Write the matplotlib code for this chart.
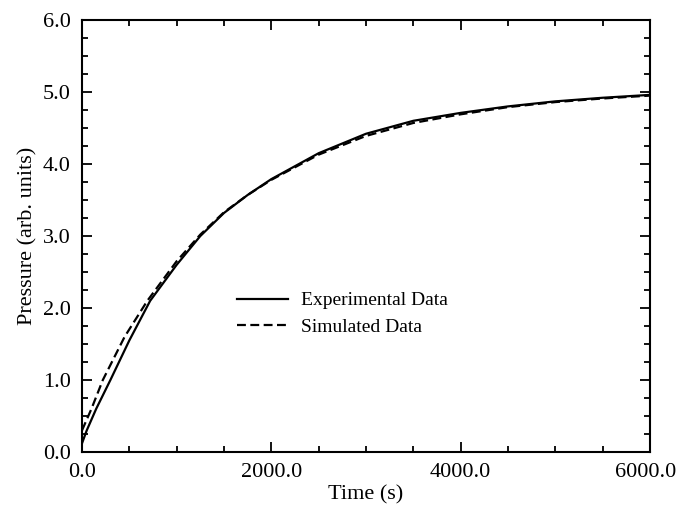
import matplotlib
matplotlib.use("Agg")
import matplotlib.pyplot as plt
from matplotlib.ticker import MultipleLocator, FuncFormatter

# values
exp_t = [0, 50, 150, 300, 500, 720, 1000, 1250, 1500, 1750, 2000, 2500, 3000, 3500, 4000, 4500, 5000, 5500, 6000]
exp_p = [0.12, 0.3, 0.6, 1.0, 1.55, 2.1, 2.6, 3.0, 3.32, 3.57, 3.79, 4.15, 4.42, 4.6, 4.71, 4.8, 4.87, 4.92, 4.96]

sim_t = [0, 100, 220, 450, 690, 1000, 1250, 1500, 1750, 2000, 2500, 3000, 3500, 4000, 4500, 5000, 5500, 6000]
sim_p = [0.3, 0.6, 1.0, 1.6, 2.1, 2.65, 3.02, 3.33, 3.57, 3.78, 4.13, 4.39, 4.57, 4.69, 4.79, 4.86, 4.91, 4.95]

x_max = 6000

plt.rcParams['font.family'] = ['Liberation Serif', 'DejaVu Serif']

fig = plt.figure(figsize=(6.78, 5.12), dpi=100)
ax = fig.add_axes([82/678, 1 - 452/512, 568/678, 432/512])

ax.plot(exp_t, exp_p, color="black", lw=1.6, ls="-", label="Experimental Data")
ax.plot(sim_t, sim_p, color="black", lw=1.6, ls=(0, (4, 2)), label="Simulated Data")

ax.set_xlim(0, x_max)
ax.set_ylim(0, 6)
ax.xaxis.set_major_locator(MultipleLocator(2000))
ax.xaxis.set_minor_locator(MultipleLocator(500))
ax.yaxis.set_major_locator(MultipleLocator(1))
ax.yaxis.set_minor_locator(MultipleLocator(0.25))
# the last x label is drawn by hand, nudged left so it fits in the figure
ax.xaxis.set_major_formatter(FuncFormatter(lambda v, p: "" if v >= x_max else "%.1f" % v))
ax.yaxis.set_major_formatter(FuncFormatter(lambda v, p: "%.1f" % v))
ax.tick_params(which="both", direction="in", top=True, right=True, labelsize=16, width=1.3)
ax.tick_params(which="major", length=7, pad=8)
ax.tick_params(which="minor", length=4)
for s in ax.spines.values():
    s.set_linewidth(1.5)

ax.annotate("%.1f" % x_max, xy=(x_max, 0), xycoords="data", xytext=(-3.5, -8),
            textcoords="offset points", ha="center", va="top", fontsize=16,
            annotation_clip=False)

ax.set_xlabel("Time (s)", fontsize=16, labelpad=2)
ax.set_ylabel("Pressure (arb. units)", fontsize=16, labelpad=4)

ax.legend(loc="center left", bbox_to_anchor=(0.273, 0.32), frameon=False, fontsize=14,
          borderaxespad=0, borderpad=0,
          handlelength=2.6, handletextpad=0.7, labelspacing=0.45)

fig.savefig("out.png", dpi=100)
